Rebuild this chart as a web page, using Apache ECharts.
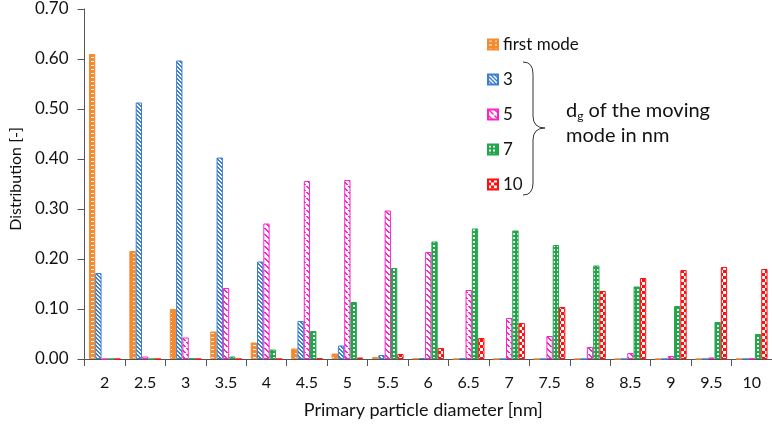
<!DOCTYPE html>
<html>
<head>
<meta charset="utf-8">
<script src="https://cdn.jsdelivr.net/npm/echarts@6/dist/echarts.min.js"></script>
<style>
html,body{margin:0;padding:0;background:#fff;}
#chart{width:772px;height:427px;}
</style>
</head>
<body>
<div id="chart"></div>
<script>
const categories = ['2','2.5','3','3.5','4','4.5','5','5.5','6','6.5','7','7.5','8','8.5','9','9.5','10'];
const seriesNames = ['first mode','3','5','7','10'];
const firstMode = [0.610,0.216,0.100,0.055,0.033,0.021,0.011,0.004,0.001,0,0,0,0,0,0,0,0];
const dg3  = [0.172,0.513,0.597,0.403,0.195,0.076,0.027,0.008,0.002,0.001,0,0,0,0,0,0,0];
const dg5  = [0,0.005,0.043,0.142,0.271,0.356,0.358,0.297,0.214,0.138,0.082,0.046,0.024,0.012,0.006,0.003,0.001];
const dg7  = [0,0,0.001,0.005,0.019,0.056,0.114,0.182,0.235,0.261,0.257,0.228,0.187,0.145,0.106,0.074,0.050];
const dg10 = [0,0,0,0,0,0.001,0.003,0.010,0.022,0.042,0.072,0.104,0.136,0.162,0.178,0.184,0.180];
const yTicks = ['0.00','0.10','0.20','0.30','0.40','0.50','0.60','0.70'];

const colors = ['#F58A2E','#3C7FD0','#FF22CC','#23A64A','#FF1010'];
const FONT = 'Lato, "Open Sans", sans-serif';

function makePattern(kind, col) {
  const c = document.createElement('canvas');
  let ctx;
  if (kind === 'dots') {
    c.width = 6; c.height = 4; ctx = c.getContext('2d');
    ctx.fillStyle = col; ctx.fillRect(0,0,6,4);
    ctx.fillStyle = '#fff'; ctx.fillRect(1,1,3,1);
  } else if (kind === 'diag') {
    c.width = 4; c.height = 4; ctx = c.getContext('2d');
    ctx.fillStyle = col; ctx.fillRect(0,0,4,4);
    ctx.fillStyle = '#fff';
    for (let i=0;i<4;i++){ ctx.fillRect(i,i,1,1); ctx.fillRect((i+1)%4,i,1,1); }
  } else if (kind === 'dash') {
    c.width = 6; c.height = 6; ctx = c.getContext('2d');
    ctx.fillStyle = '#fff'; ctx.fillRect(0,0,6,6);
    ctx.fillStyle = col;
    for (let i=0;i<5;i++){ ctx.fillRect(i,i,2,1); }
  } else if (kind === 'grid') {
    c.width = 4; c.height = 4; ctx = c.getContext('2d');
    ctx.fillStyle = col; ctx.fillRect(0,0,4,4);
    ctx.fillStyle = '#fff'; ctx.fillRect(1,1,2,2);
  } else {
    c.width = 6; c.height = 6; ctx = c.getContext('2d');
    ctx.fillStyle = col; ctx.fillRect(0,0,6,6);
    ctx.fillStyle = '#fff'; ctx.fillRect(0,0,3,3); ctx.fillRect(3,3,3,3);
  }
  return {image: c, repeat: 'repeat'};
}
const kinds = ['dots','diag','dash','grid','check'];
const allData = [firstMode, dg3, dg5, dg7, dg10];

const chart = echarts.init(document.getElementById('chart'), null, {renderer:'canvas'});
const series = seriesNames.map((n,i)=>({
  name: n,
  type: 'bar',
  data: allData[i],
  barGap: '0%',
  barCategoryGap: '22%',
  itemStyle: { color: makePattern(kinds[i], colors[i]), borderColor: colors[i], borderWidth: 1 }
}));

const braceStyle = { fill: 'none', stroke: '#333', lineWidth: 1 };
chart.setOption({
  animation: false,
  backgroundColor: '#fff',
  textStyle: { fontFamily: FONT },
  grid: { left: 81, right: -4, top: 9, bottom: 68, containLabel: false },
  legend: {
    orient: 'vertical', left: 482, top: 31,
    itemWidth: 10, itemHeight: 10, itemGap: 18, itemTextGap: 6,
    icon: 'rect',
    textStyle: { fontSize: 17, color: '#111', fontFamily: FONT, lineHeight: 17 },
    data: seriesNames
  },
  xAxis: {
    type: 'category', data: categories,
    axisLine: { lineStyle: { color: '#555', width: 1 } },
    axisTick: { show: true, length: 7, lineStyle: { color: '#555' } },
    axisLabel: { fontSize: 16, color: '#111', margin: 16, fontFamily: FONT },
    name: 'Primary particle diameter [nm]', nameLocation: 'middle', nameGap: 42,
    nameTextStyle: { fontSize: 18, color: '#111', fontFamily: FONT, padding: [0, 10, 0, 0] }
  },
  yAxis: {
    type: 'value', min: 0, max: 0.7, interval: 0.1,
    splitLine: { show: false },
    axisLine: { show: true, lineStyle: { color: '#555' } },
    axisTick: { show: true, length: 7, lineStyle: { color: '#555' } },
    axisLabel: { fontSize: 17, color: '#111', margin: 16, fontFamily: FONT,
      formatter: v => yTicks[Math.round(v*10)] },
    name: 'Distribution [-]', nameLocation: 'middle', nameGap: 60, nameRotate: 90,
    nameTextStyle: { fontSize: 16, color: '#111', fontFamily: FONT, padding: [0, 0, 0, 10] }
  },
  graphic: [
    { type: 'bezierCurve', silent: true, shape: { x1: 523, y1: 62, cpx1: 533, cpy1: 62, x2: 533, y2: 74 }, style: braceStyle },
    { type: 'line', silent: true, shape: { x1: 533, y1: 74, x2: 533, y2: 116 }, style: braceStyle },
    { type: 'bezierCurve', silent: true, shape: { x1: 533, y1: 116, cpx1: 533, cpy1: 128, x2: 545, y2: 128 }, style: braceStyle },
    { type: 'bezierCurve', silent: true, shape: { x1: 545, y1: 128, cpx1: 533, cpy1: 128, x2: 533, y2: 140 }, style: braceStyle },
    { type: 'line', silent: true, shape: { x1: 533, y1: 140, x2: 533, y2: 183 }, style: braceStyle },
    { type: 'bezierCurve', silent: true, shape: { x1: 533, y1: 183, cpx1: 533, cpy1: 195, x2: 523, y2: 195 }, style: braceStyle },
    { type: 'text', left: 566, top: 100, silent: true,
      style: {
        text: '{a|d}{s|g}{a| of the moving}\n{a|mode in nm}',
        rich: {
          a: { fontSize: 20, fontFamily: FONT, fill: '#111', lineHeight: 25 },
          s: { fontSize: 12, fontFamily: FONT, fill: '#111', padding: [10,0,0,0], lineHeight: 25 }
        }
      } }
  ],
  series: series
});
</script>
</body>
</html>
